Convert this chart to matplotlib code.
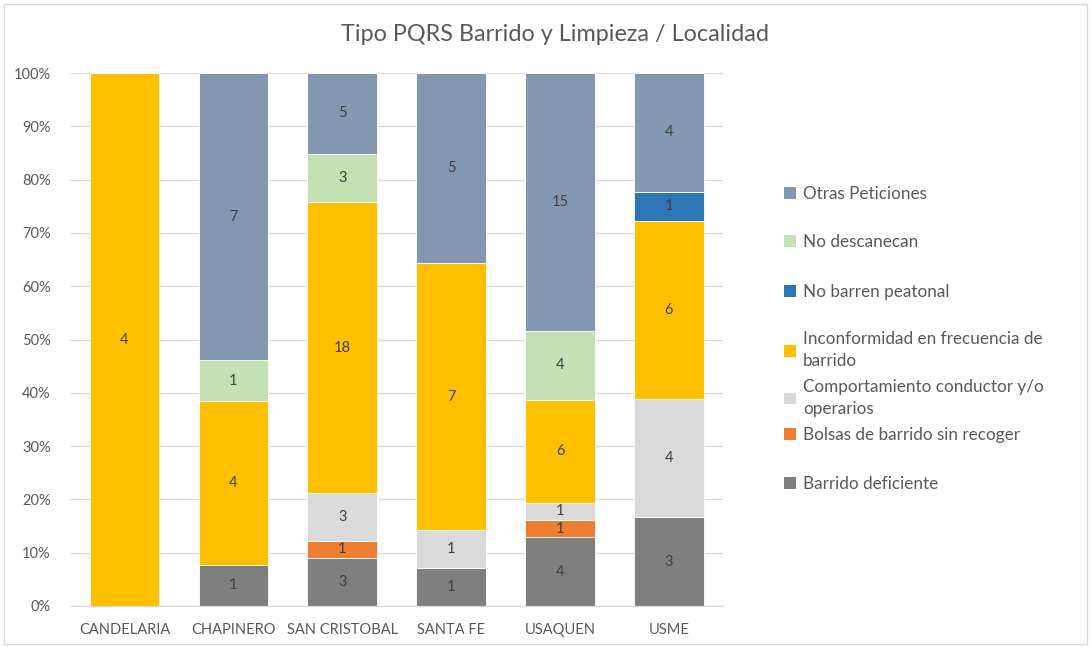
import matplotlib
matplotlib.use("Agg")
import matplotlib.pyplot as plt
import numpy as np
from matplotlib.patches import Patch, Rectangle
from matplotlib.ticker import PercentFormatter

plt.rcParams['font.family'] = ['Lato', 'DejaVu Sans']

categories = ["CANDELARIA", "CHAPINERO", "SAN CRISTOBAL", "SANTA FE", "USAQUEN", "USME"]
series_names = ["Barrido deficiente", "Bolsas de barrido sin recoger",
                "Comportamiento conductor y/o\noperarios",
                "Inconformidad en frecuencia de\nbarrido",
                "No barren peatonal", "No descanecan", "Otras Peticiones"]
barrido_deficiente = [0, 1, 3, 1, 4, 3]
bolsas_sin_recoger = [0, 0, 1, 0, 1, 0]
comportamiento = [0, 0, 3, 1, 1, 4]
inconformidad = [4, 4, 18, 7, 6, 6]
no_barren_peatonal = [0, 0, 0, 0, 0, 1]
no_descanecan = [0, 1, 3, 0, 4, 0]
otras_peticiones = [0, 7, 5, 5, 15, 4]
colors = ["#7F7F7F", "#ED7D31", "#DADADA", "#FFC000", "#2E75B6", "#C5E0B4", "#8497B0"]

series = [barrido_deficiente, bolsas_sin_recoger, comportamiento, inconformidad,
          no_barren_peatonal, no_descanecan, otras_peticiones]
data = np.array(series, dtype=float)
totals = data.sum(axis=0)
frac = data / totals

fig = plt.figure(figsize=(10.91, 6.47), dpi=100)
ax = fig.add_axes([0.0642, 0.0634, 0.5988, 0.8236])

x = np.arange(len(categories))
bottom = np.zeros(len(categories))
handles = []
for i, name in enumerate(series_names):
    bars = ax.bar(x, frac[i], 0.64, bottom=bottom, color=colors[i],
                  edgecolor="white", linewidth=0.6, zorder=3)
    for j, b in enumerate(bars):
        if data[i, j] > 0:
            ax.text(x[j], bottom[j] + frac[i, j] / 2, f"{int(data[i, j])}",
                    ha="center", va="center", fontsize=10.5, color="#404040", zorder=4)
    bottom += frac[i]
    handles.append(Patch(facecolor=colors[i]))

ax.set_xlim(-0.5, len(categories) - 0.5)
ax.set_ylim(0, 1)
ax.set_yticks(np.arange(0, 1.01, 0.1))
ax.yaxis.set_major_formatter(PercentFormatter(1.0, decimals=0))
ax.set_xticks(x)
ax.set_xticklabels(categories)
ax.tick_params(axis="both", length=0, labelsize=10.5, labelcolor="#595959")
ax.tick_params(axis="x", pad=12)
ax.tick_params(axis="y", pad=14)
ax.grid(axis="y", color="#D9D9D9", linewidth=0.9, zorder=0)
for s in ["top", "right", "left"]:
    ax.spines[s].set_visible(False)
ax.spines["bottom"].set_color("#D9D9D9")
ax.spines["bottom"].set_linewidth(0.9)
ax.spines["bottom"].set_zorder(5)

fig.suptitle("Tipo PQRS Barrido y Limpieza / Localidad", x=0.509, y=0.947,
             fontsize=16.8, color="#595959", va="center")

# legend entries (Excel-style, placed individually), top to bottom
legend_y_px = [194, 242, 292, 350, 398, 435, 484]
order = list(range(len(series_names)))[::-1]
for k, idx in enumerate(order):
    yf = 1 - legend_y_px[k] / 647
    leg = fig.legend([handles[idx]], [series_names[idx]], loc="center left",
                     bbox_to_anchor=(0.719, yf), frameon=False, fontsize=12.3,
                     handlelength=0.7, handleheight=0.7, handletextpad=0.4,
                     labelcolor="#595959", borderpad=0, borderaxespad=0)
    for t in leg.get_texts():
        t.set_linespacing(1.45)

fig.patches.append(Rectangle((0.004, 0.004), 0.992, 0.99, transform=fig.transFigure,
                             fill=False, edgecolor="#D9D9D9", linewidth=1))

fig.savefig("out.png", dpi=100)
